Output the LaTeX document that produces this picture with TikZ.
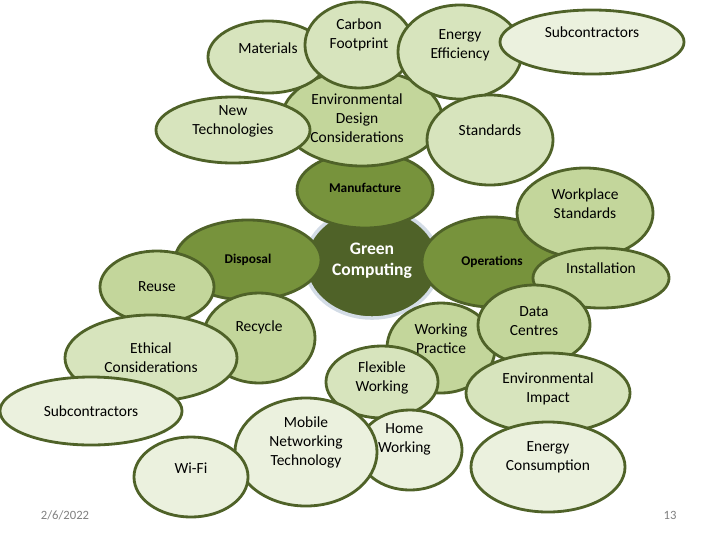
\documentclass[tikz,border=0pt]{standalone}
\usepackage{fontspec}
\setmainfont{Carlito}
\usetikzlibrary{shapes.geometric}

\definecolor{gcdark}{HTML}{4F6228}
\definecolor{gcmid}{HTML}{77933C}
\definecolor{gclight}{HTML}{C3D69B}
\definecolor{gcpale}{HTML}{D7E4BD}
\definecolor{gcpalest}{HTML}{EBF1DE}
\definecolor{gcline}{HTML}{4F6228}
\definecolor{gcglow}{HTML}{D3DCE6}

\begin{document}
\begin{tikzpicture}[x=0.025cm, y=-0.025cm,
  bubble/.style={ellipse, draw=gcline, line width=2pt, inner sep=0pt},
  %
  rad/.style 2 args={minimum width=#1*0.05cm, minimum height=#2*0.05cm},
  %
  core/.style={ellipse, fill=gcdark, draw=gcglow, line width=2.5pt, inner sep=0pt},
  %
  every label/.style={align=center, inner sep=0pt, text=black,
    font=\fontsize{11}{13.5}\selectfont},
  %
  boldlbl/.style={font=\fontsize{9.5}{12}\selectfont\bfseries},
  %
  footer/.style={text=gray, font=\fontsize{9}{11}\selectfont, inner sep=0pt}
  ]

  \useasboundingbox (0,0) rectangle (720,540);

  % centre and the upper cluster
  \node [core, rad={67}{55},
    label={[yshift=1.4pt, text=white, font=\fontsize{12.5}{15}\selectfont\bfseries]center:Green\\Computing}]
    (green) at (372,263) {};
  \node [bubble, fill=gcmid, rad={68}{38}, label={[boldlbl, yshift=1.4pt]center:Manufacture}]
    (manufacture) at (365,190) {};
  \node [bubble, fill=gclight, rad={80}{48},
    label={[xshift=-3.5pt]center:Environmental\\Design\\Considerations}]
    (envdesign) at (362,118) {};
  \node [bubble, fill=gcpale, rad={60}{36}, label={[yshift=6.4pt]center:Materials}]
    (materials) at (268,57) {};
  \node [bubble, fill=gcpale, rad={77}{33}, label={[yshift=6pt]center:New\\Technologies}]
    (newtech) at (233,130) {};
  \node [bubble, fill=gcpale, rad={54}{43}, label={[yshift=7.4pt]center:Carbon\\Footprint}]
    (carbon) at (359,45) {};
  \node [bubble, fill=gcpale, rad={62}{47}, label={[yshift=4.6pt]center:Energy\\Efficiency}]
    (energyeff) at (460,52) {};
  \node [bubble, fill=gcpalest, rad={92}{32}, label={[yshift=7.1pt]center:Subcontractors}]
    (subtop) at (592,42) {};
  \node [bubble, fill=gcpale, rad={63}{45}, label={[yshift=7.1pt]center:Standards}]
    (standards) at (490,140) {};

  % operations side
  \node [bubble, fill=gcmid, rad={70}{45}, label={[boldlbl]center:Operations}]
    (operations) at (492,262) {};
  \node [bubble, fill=gclight, rad={68}{45}, label={[yshift=6.7pt]center:Workplace\\Standards}]
    (workplace) at (585,213) {};
  \node [bubble, fill=gclight, rad={68}{30}, label={[yshift=7.1pt]center:Installation}]
    (installation) at (601,278) {};

  % disposal side
  \node [bubble, fill=gcmid, rad={73}{40}, label={[boldlbl]center:Disposal}]
    (disposal) at (248,260) {};
  \node [bubble, fill=gclight, rad={57}{36}, label={center:Reuse}]
    (reuse) at (157,287) {};
  \node [bubble, fill=gclight, rad={56}{45}, label={[yshift=7.8pt]center:Recycle}]
    (recycle) at (259,338) {};
  \node [bubble, fill=gcpale, rad={86}{43}, label={center:Ethical\\Considerations}]
    (ethical) at (151,358) {};
  \node [bubble, fill=gcpalest, rad={91}{34}, label={center:Subcontractors}]
    (subbot) at (91,411) {};

  % working practice cluster
  \node [bubble, fill=gclight, rad={54}{45}, label={[yshift=6.7pt]center:Working\\Practice}]
    (workpractice) at (441,348) {};
  \node [bubble, fill=gclight, rad={56}{40}, label={[yshift=2.5pt]center:Data\\Centres}]
    (datacentres) at (534,325) {};
  \node [bubble, fill=gcpale, rad={56}{36}, label={[yshift=3.2pt]center:Flexible\\Working}]
    (flexible) at (382,382) {};
  \node [bubble, fill=gcpalest, rad={52}{40}, label={[xshift=-4pt, yshift=7.4pt]center:Home\\Working}]
    (home) at (410,450) {};
  \node [bubble, fill=gcpalest, rad={71}{54}, label={[yshift=7.1pt]center:Mobile\\Networking\\Technology}]
    (mobile) at (306,452) {};
  \node [bubble, fill=gcpalest, rad={57}{40}, label={[yshift=6.4pt]center:Wi-Fi}]
    (wifi) at (191,477) {};
  \node [bubble, fill=gcpale, rad={82}{40}, label={[yshift=2.8pt]center:Environmental\\Impact}]
    (envimpact) at (548,393) {};
  \node [bubble, fill=gcpalest, rad={77}{45}, label={[yshift=7.1pt]center:Energy\\Consumption}]
    (energycons) at (548,467) {};

  % slide footer
  \node [footer] (date) at (65,515) {2/6/2022};
  \node [footer] (pageno) at (670,515) {13};

\end{tikzpicture}
\end{document}
